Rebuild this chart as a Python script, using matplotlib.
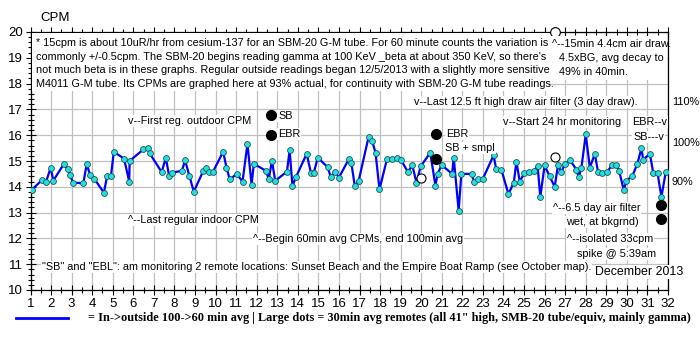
import numpy as np
import matplotlib
matplotlib.use("Agg")
import matplotlib.pyplot as plt
from matplotlib.lines import Line2D
from matplotlib.patches import Rectangle

plt.rcParams['font.family'] = ['Liberation Sans', 'DejaVu Sans']

# 60/100 min averaged CPM readings, December 2013 (day of month as float)
day = np.array([1.07, 1.57, 1.76, 1.98, 2.11, 2.61, 2.80, 2.93, 3.07, 3.57, 3.73, 3.90,
                4.11, 4.57, 4.72, 4.91, 5.05, 5.55, 5.80, 5.82, 6.49, 6.71, 6.79, 7.38,
                7.58, 7.74, 7.90, 8.36, 8.52, 8.73, 8.94, 9.41, 9.54, 9.69, 9.87, 10.37,
                10.53, 10.69, 11.03, 11.31, 11.55, 11.75, 11.86, 12.43, 12.59, 12.74, 12.90,
                13.47, 13.60, 13.74, 13.91, 14.43, 14.64, 14.77, 14.97, 15.45, 15.60, 15.80,
                16.00, 16.47, 16.60, 16.77, 16.96, 17.44, 17.62, 17.78, 17.97, 18.33, 18.60,
                18.82, 19.01, 19.35, 19.57, 19.77, 19.97, 20.44, 20.69, 20.80, 20.99, 21.50,
                21.58, 21.82, 21.95, 22.45, 22.57, 22.78, 22.99, 23.52, 23.64, 23.90, 24.24,
                24.50, 24.63, 24.79, 25.02, 25.23, 25.47, 25.66, 25.79, 26.00, 26.25, 26.49,
                26.65, 26.82, 26.98, 27.25, 27.55, 27.66, 27.79, 28.00, 28.20, 28.44, 28.60,
                28.81, 29.04, 29.28, 29.49, 29.62, 29.85, 29.98, 30.26, 30.51, 30.71, 30.79,
                31.12, 31.28, 31.49, 31.68, 31.89])
cpm = np.array([13.89, 14.27, 14.20, 14.74, 14.24, 14.87, 14.70, 14.44, 14.16, 14.14, 14.87, 14.47,
                14.30, 13.77, 14.40, 14.40, 15.36, 15.09, 14.20, 15.00, 15.45, 15.52, 15.30, 14.57,
                15.13, 14.42, 14.55, 14.62, 15.02, 14.42, 13.81, 14.63, 14.72, 14.57, 14.58, 15.36,
                14.74, 14.29, 14.50, 14.20, 15.67, 14.08, 14.89, 14.63, 14.31, 15.01, 14.23,
                14.59, 15.41, 14.03, 14.38, 15.28, 14.53, 14.53, 15.13, 14.76, 14.38, 14.59,
                14.36, 15.06, 14.93, 14.03, 14.24, 15.93, 15.77, 15.31, 13.90, 15.06, 15.06,
                15.11, 15.05, 14.58, 14.83, 14.15, 14.79, 15.32, 14.04, 14.50, 14.85, 14.50,
                15.13, 13.07, 14.50, 14.50, 14.20, 14.30, 14.30, 15.22, 14.70, 14.66, 13.72,
                14.16, 14.98, 14.20, 14.54, 14.57, 14.60, 14.80, 13.61, 14.83, 14.40, 14.00,
                14.83, 14.57, 14.89, 15.02, 14.66, 14.37, 14.74, 16.03, 14.74, 15.28, 14.57,
                14.53, 14.57, 14.85, 14.85, 14.63, 13.87, 14.24, 14.41, 14.89, 15.50, 15.05,
                15.28, 14.55, 14.53, 13.61, 14.57])

# remote 30 min readings (large black dots)
remote_day = [12.69, 12.69, 20.72, 20.72, 31.68, 31.68]
remote_cpm = [16.78, 16.00, 16.04, 15.09, 13.29, 12.74]

# hollow circles: single readings, the 33cpm spike is off the scale
open_day = [20.00, 26.52]
open_cpm = [14.33, 15.15]
spike_day = 26.52
spike_cpm = 33.0

# right side percent labels (cpm level of each)
pct_labels = ['110%', '100%', '90%']
pct_cpm = [17.29, 15.70, 14.19]

W, H = 700, 350
fig = plt.figure(figsize=(7, 3.5), dpi=100)
ax = fig.add_axes([30.5 / W, 1 - 290 / H, (668 - 30.5) / W, (290 - 32) / H])
ax.set_xlim(1, 32)
ax.set_ylim(10, 20)
ax.set_xticks(range(1, 33))
ax.set_xticks(np.arange(1, 32, 0.5), minor=True)
ax.set_yticks(range(10, 21))
ax.set_yticks(np.arange(10, 20, 0.2), minor=True)
ax.tick_params(which='major', direction='inout', length=7, width=0.8, labelsize=9.5, pad=2)
ax.tick_params(which='minor', direction='inout', length=5, width=0.8)
ax.tick_params(axis='x', which='both', top=True)
ax.grid(True, which='major', color='#c0c0c0', linewidth=0.9)
ax.set_axisbelow(True)
for s in ax.spines.values():
    s.set_linewidth(0.9)

ax.plot(day, cpm, '-', color='#0000ff', linewidth=1.6, zorder=3)
ax.plot(day, cpm, 'o', color='#22e0e0', markeredgecolor='#205050', markersize=4.2,
        markeredgewidth=0.6, zorder=4)
ax.plot(remote_day, remote_cpm, 'o', color='black', markersize=7, zorder=5)
ax.plot(open_day, open_cpm, 'o', mfc='white', mec='black', markersize=6.5, mew=0.8, zorder=5)
ax.plot(spike_day, min(spike_cpm, 20), 'o', mfc='white', mec='black', markersize=7,
        mew=0.8, zorder=6, clip_on=False)


def px(x, y):
    return x / W, 1 - y / H


def note(x, y, s, size=7.8, box=True, **kw):
    bb = dict(fc='white', ec='none', pad=0.6) if box else None
    fig.text(*px(x, y), s, ha='left', va='center', fontsize=size, bbox=bb, **kw)


# white boxes behind the notes at the top
fig.add_artist(Rectangle(px(31.5, 91), (549 - 31.5) / W, (91 - 33) / H,
                         transform=fig.transFigure, fc='white', ec='none'))
fig.add_artist(Rectangle(px(549, 80), (667 - 549) / W, (80 - 36) / H,
                         transform=fig.transFigure, fc='white', ec='none'))

fig.text(*px(40, 18), 'CPM', ha='left', va='center', fontsize=9.5)
top_note = ["* 15cpm is about 10uR/hr from cesium-137 for an SBM-20 G-M tube. For 60 minute counts the variation is",
            "commonly +/-0.5cpm. The SBM-20 begins reading gamma at 100 KeV _beta at about 350 KeV, so there's",
            "not much beta is in these graphs. Regular outside readings began 12/5/2013 with a slightly more sensitive",
            "M4011 G-M tube. Its CPMs are graphed here at 93% actual, for continuity with SBM-20 G-M tube readings."]
for i, line in enumerate(top_note):
    note(36, 43 + 13.6 * i, line, box=False)
note(552, 44, "^--15min 4.4cm air draw.", box=False)
note(559, 58, "4.5xBG, avg decay to", box=False)
note(559, 72, "49% in 40min.", box=False)

note(414, 102, "v--Last 12.5 ft high draw air filter (3 day draw).")
note(128, 121, "v--First reg. outdoor CPM")
note(278, 116, "SB")
note(278, 134, "EBR")
note(446, 134, "EBR")
note(445, 148, "SB + smpl")
note(503, 122, "v--Start 24 hr monitoring")
note(632, 122, "EBR--v")
note(633, 137, "SB---v")
note(128, 220, "^--Last regular indoor CPM")
note(553, 208, "^--6.5 day air filter")
note(566, 222, "wet, at bkgrnd)")
note(253, 239, "^--Begin 60min avg CPMs, end 100min avg")
note(567, 239, "^--isolated 33cpm")
note(577, 254, "spike @ 5:39am")
note(42, 267, '"SB" and "EBL": am monitoring 2 remote locations: Sunset Beach and the Empire Boat Ramp (see October map).')
note(595, 272, "December 2013", size=8.9)

# percent labels on the right
for lab, v in zip(pct_labels, pct_cpm):
    ax.text(1.006, (v - 10) / 10, lab, transform=ax.transAxes, ha='left', va='center', fontsize=7.8)

# legend line at the bottom
fig.add_artist(Line2D([16 / W, 68 / W], [1 - 318 / H, 1 - 318 / H], color='#0000ff', linewidth=2))
fig.text(*px(88, 318), '= In->outside 100->60 min avg | Large dots = 30min avg remotes '
         '(all 41" high, SMB-20 tube/equiv, mainly gamma)', ha='left', va='center',
         fontsize=8.8, family=['Liberation Serif', 'DejaVu Serif'], fontweight='bold')

fig.savefig('out.png', dpi=100)
